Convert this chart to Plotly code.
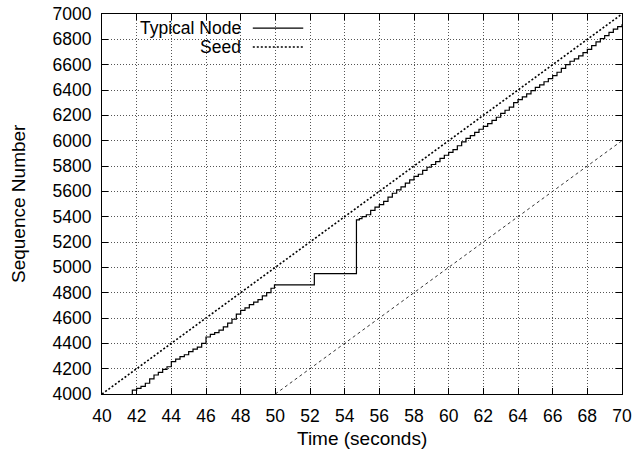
import plotly.graph_objects as go

# ---- data ----
node_t = [41.6, 41.75, 42.0, 42.25, 42.5, 42.75, 43.0, 43.25, 43.5, 43.75, 44.0,
          44.25, 44.5, 44.75, 45.0, 45.25, 45.5, 45.75, 46.0, 46.25, 46.5, 46.75,
          47.0, 47.25, 47.5, 47.75, 48.0, 48.25, 48.5, 48.75, 49.0, 49.25, 49.5,
          49.75, 49.95, 52.25, 54.68, 54.85, 55.0, 55.25, 55.5, 55.75, 56.0, 56.25,
          56.5, 56.75, 57.0, 57.25, 57.5, 57.75, 58.0, 58.25, 58.5, 58.75, 59.0,
          59.25, 59.5, 59.75, 60.0, 60.25, 60.5, 60.75, 61.0, 61.25, 61.5, 61.75,
          62.0, 62.25, 62.5, 62.75, 63.0, 63.25, 63.5, 63.75, 64.0, 64.25, 64.5,
          64.75, 65.0, 65.25, 65.5, 65.75, 66.0, 66.25, 66.5, 66.75, 67.0, 67.25,
          67.5, 67.75, 68.0, 68.25, 68.5, 68.75, 69.0, 69.25, 69.5, 69.75, 70.0]
node_seq = [3980, 4030, 4045, 4060, 4085, 4120, 4150, 4170, 4195, 4215, 4255,
            4275, 4295, 4310, 4335, 4355, 4370, 4400, 4450, 4470, 4485, 4505,
            4530, 4560, 4590, 4630, 4660, 4680, 4705, 4725, 4745, 4775, 4800,
            4835, 4862, 4950, 5375, 5385, 5400, 5415, 5450, 5475, 5495, 5520,
            5555, 5585, 5612, 5635, 5665, 5690, 5718, 5735, 5765, 5790, 5812,
            5835, 5860, 5885, 5908, 5930, 5960, 5990, 6018, 6040, 6065, 6090,
            6113, 6135, 6160, 6185, 6215, 6240, 6265, 6300, 6324, 6345, 6370,
            6395, 6420, 6440, 6465, 6490, 6514, 6540, 6570, 6600, 6627, 6645,
            6670, 6695, 6720, 6750, 6780, 6805, 6830, 6855, 6880, 6900, 6920]

seed_t = [40, 70]
seed_seq = [4000, 7000]

lag_t = [50, 70]
lag_seq = [4000, 6000]

names = ["Typical Node", "Seed"]
x_title = "Time (seconds)"
y_title = "Sequence Number"

x_ticks = list(range(40, 71, 2))
y_ticks = list(range(4000, 7001, 200))

FONT = "Liberation Sans, Arial, Helvetica, sans-serif"
TICK_SIZE = 17.5
TITLE_SIZE = 19

fig = go.Figure()
fig.add_trace(go.Scatter(x=node_t, y=node_seq, mode="lines", line_shape="hv",
                         line=dict(color="black", width=1.2), name=names[0],
                         showlegend=False, hoverinfo="skip"))
fig.add_trace(go.Scatter(x=seed_t, y=seed_seq, mode="lines",
                         line=dict(color="black", width=1.6, dash="2px,2px"),
                         name=names[1], showlegend=False, hoverinfo="skip"))
fig.add_trace(go.Scatter(x=lag_t, y=lag_seq, mode="lines",
                         line=dict(color="black", width=0.8, dash="3px,3px"),
                         showlegend=False, hoverinfo="skip"))

axis_common = dict(showline=True, linecolor="black", linewidth=1, mirror="ticks",
                   ticks="inside", ticklen=6, tickcolor="black", automargin=False,
                   showgrid=True, gridcolor="#555", griddash="1px,2px", gridwidth=1,
                   zeroline=False, tickfont=dict(family=FONT, size=TICK_SIZE, color="black"))

fig.update_xaxes(range=[40, 70], tickvals=x_ticks, ticktext=[str(v) for v in x_ticks],
                 ticklabelstandoff=6, **axis_common)
fig.update_yaxes(range=[4000, 7000], tickvals=y_ticks, ticktext=[str(v) for v in y_ticks],
                 ticklabelstandoff=6, **axis_common)

# axis titles
fig.add_annotation(xref="paper", yref="paper", x=0.5, y=0, yshift=-44, text=x_title,
                   showarrow=False, xanchor="center", yanchor="middle",
                   font=dict(family=FONT, size=TITLE_SIZE, color="black"))
fig.add_annotation(xref="paper", yref="paper", x=0, y=0.5, xshift=-84, text=y_title,
                   textangle=-90, showarrow=False, xanchor="center", yanchor="middle",
                   font=dict(family=FONT, size=TITLE_SIZE, color="black"))

# gnuplot-style key: text right-aligned, sample to the right, masking the grid
fig.add_shape(type="rect", xref="paper", yref="paper", x0=0.019, x1=0.394, y0=0.892, y1=1.0,
              fillcolor="white", line=dict(width=0), layer="between")
key_y = [0.963, 0.913]
key_dash = ["solid", "2px,2px"]
key_w = [1.2, 1.6]
for nm, ky, kd, kw in zip(names, key_y, key_dash, key_w):
    fig.add_annotation(xref="paper", yref="paper", x=0.271, y=ky, text=nm, showarrow=False,
                       xanchor="right", yanchor="middle",
                       font=dict(family=FONT, size=TICK_SIZE, color="black"))
    fig.add_shape(type="line", xref="paper", yref="paper", x0=0.290, x1=0.387, y0=ky, y1=ky,
                  line=dict(color="black", width=kw, dash=kd))

fig.update_layout(width=634, height=449, margin=dict(l=102, r=12, t=14, b=55, autoexpand=False),
                  plot_bgcolor="white", paper_bgcolor="white", showlegend=False,
                  font=dict(family=FONT, size=TICK_SIZE, color="black"))

fig.write_html("out.html", config={"displayModeBar": False},
               post_script="document.body.style.margin='0px';document.body.style.overflow='hidden';")
